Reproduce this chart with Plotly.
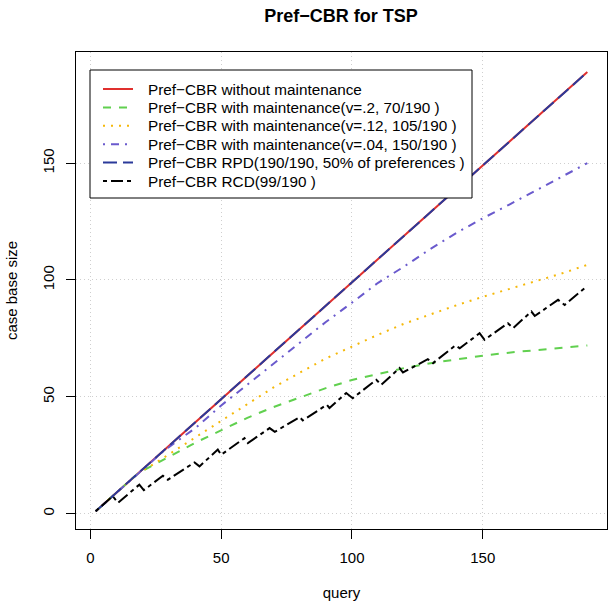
import plotly.graph_objects as go

# ---------------- data ----------------
line_query = [2, 190]
no_maint = [1, 189]
rpd = [1, 189]

green_query = [2, 10, 18, 20, 25, 30, 40, 50, 60, 70, 80, 90, 100, 110, 120, 130, 140, 150, 160, 170, 180, 190]
green_size = [1, 9, 17, 18.3, 21.4, 24.3, 30.3, 35.8, 41.0, 45.6, 49.8, 53.7, 57.2, 59.9, 62.3, 64.4, 66.1, 67.6, 68.9, 70.0, 71.0, 72.0]

orange_query = [2, 10, 18, 25, 30, 40, 50, 60, 70, 80, 90, 100, 110, 120, 130, 140, 150, 160, 170, 180, 190]
orange_size = [1, 9, 17, 21.8, 25.4, 32.3, 39.5, 47.0, 54.0, 60.3, 66.4, 71.5, 76.6, 81.3, 85.4, 89.2, 92.8, 96.2, 99.3, 102.7, 106.5]

purple_query = [2, 10, 20, 28, 35, 40, 50, 60, 70, 80, 90, 100, 110, 120, 130, 140, 150, 160, 170, 180, 190]
purple_size = [1, 9, 19, 26.8, 32.5, 36.5, 46.3, 55.3, 64.2, 72.9, 82.0, 90.3, 98.8, 105.8, 113.3, 120.2, 126.4, 132.2, 138.2, 144.0, 150.0]

rcd_query = [2, 8.5, 10.5, 18.7, 20.4, 27.7, 29.6, 39.8, 41.7, 48.7, 50, 58.9, 60.2, 68.5, 70.5, 80, 81.2,
             90.4, 91.4, 97.8, 100.3, 109.3, 111.2, 118.2, 119.5, 129, 131, 139.5, 141.2, 148.8, 150.7,
             159.6, 161.6, 168.6, 169.9, 178.8, 181.3, 190]
rcd_size = [1, 7.5, 4.6, 12.4, 10, 16.2, 14.5, 21.9, 20.2, 27.4, 25.2, 32.3, 30.2, 36.6, 35, 41.3, 39.9,
            46.6, 45.2, 51.6, 49.4, 57.3, 55.1, 62.3, 60.4, 66.1, 64.4, 72, 70.8, 77.2, 74.4,
            81.5, 79.4, 86.5, 84.6, 91.5, 89.3, 97.5]

x_ticks = [0, 50, 100, 150]
y_ticks = [0, 50, 100, 150]

legend_labels = [
    "Pref\u2212CBR without maintenance",
    "Pref\u2212CBR with maintenance(v=.2, 70/190 )",
    "Pref\u2212CBR with maintenance(v=.12, 105/190 )",
    "Pref\u2212CBR with maintenance(v=.04, 150/190 )",
    "Pref\u2212CBR RPD(190/190, 50% of preferences )",
    "Pref\u2212CBR RCD(99/190 )",
]
colors = ["#E0302E", "#61D04F", "#F5B80A", "#6A5ACD", "#2B3A9A", "#000000"]
dashes = ["solid", "8px,8px", "2px,6px", "2px,6px,8px,6px", "14px,6px", "4px,4px,12px,4px"]

# ---------------- figure ----------------
W, H = 614, 608
L, R, T, B = 76, 7, 52, 79
FONT = "Liberation Sans, Arial, Helvetica, sans-serif"

series = [
    (line_query, no_maint),
    (green_query, green_size),
    (orange_query, orange_size),
    (purple_query, purple_size),
    (line_query, rpd),
    (rcd_query, rcd_size),
]

fig = go.Figure()
for (xs, ys), name, c, d in zip(series, legend_labels, colors, dashes):
    fig.add_trace(go.Scatter(x=xs, y=ys, mode="lines", name=name,
                             line=dict(color=c, width=2, dash=d), showlegend=False))

pw = W - L - R
ph = H - T - B


def px_x(p):
    return (p - L) / pw


def px_y(p):
    return (H - B - p) / ph


# legend drawn in the R style
shapes = [dict(type="rect", xref="paper", yref="paper",
               x0=px_x(90), x1=px_x(472), y0=px_y(198), y1=px_y(70),
               line=dict(color="black", width=1), fillcolor="white", layer="above")]
annotations = []
row_y = [89, 107.4, 125.8, 144.2, 162.6, 181]
for ry, name, c, d in zip(row_y, legend_labels, colors, dashes):
    shapes.append(dict(type="line", xref="paper", yref="paper",
                       x0=px_x(103), x1=px_x(133), y0=px_y(ry), y1=px_y(ry),
                       line=dict(color=c, width=2, dash=d), layer="above"))
    annotations.append(dict(xref="paper", yref="paper", x=px_x(146), y=px_y(ry),
                            text=name, showarrow=False, xanchor="left", yanchor="middle",
                            font=dict(size=15.3, color="black", family=FONT)))

fig.update_layout(
    width=W, height=H,
    margin=dict(l=L, r=R, t=T, b=B),
    paper_bgcolor="white", plot_bgcolor="white",
    font=dict(family=FONT, size=15, color="black"),
    title=dict(text="<b>Pref\u2212CBR for TSP</b>", x=341 / W, xref="container", xanchor="center",
               y=1 - 16 / H, yref="container", yanchor="middle", font=dict(size=18)),
    shapes=shapes,
    annotations=annotations,
    showlegend=False,
)
fig.update_xaxes(range=[-5.52, 197.52], tickvals=x_ticks, ticktext=[str(v) for v in x_ticks],
                 showline=True, mirror=True, linecolor="black", linewidth=1,
                 ticks="outside", ticklen=9, tickcolor="black", tickwidth=1,
                 showgrid=True, gridcolor="#cfcfcf", griddash="1px,3px", gridwidth=1, zeroline=False,
                 tickfont=dict(size=15), ticklabelstandoff=6,
                 title=dict(text="query", standoff=22, font=dict(size=15)))
fig.update_yaxes(range=[-6.6, 197.6], tickvals=y_ticks, ticktext=[str(v) for v in y_ticks],
                 showline=True, mirror=True, linecolor="black", linewidth=1,
                 ticks="outside", ticklen=9, tickcolor="black", tickwidth=1,
                 showgrid=True, gridcolor="#cfcfcf", griddash="1px,3px", gridwidth=1, zeroline=False,
                 tickfont=dict(size=15), tickangle=-90, ticklabelstandoff=6,
                 title=dict(text="case base size", standoff=18, font=dict(size=15)))

fig.write_html("out.html", config={"displayModeBar": False},
               post_script="document.body.style.margin='0';")
